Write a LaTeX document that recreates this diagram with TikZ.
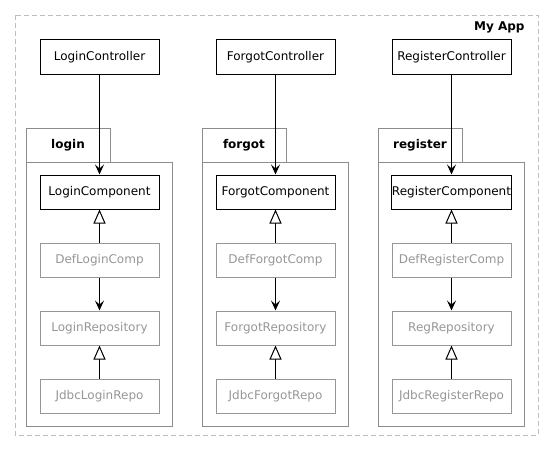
\documentclass[tikz,border=0pt]{standalone}
\usepackage{fontspec}
\setmainfont{DejaVu Sans}
\usetikzlibrary{arrows.meta}
\definecolor{softgray}{RGB}{150,150,150}
\definecolor{pkggray}{RGB}{140,140,140}
\definecolor{framegray}{RGB}{190,190,190}

\begin{document}
\begin{tikzpicture}[x=1pt,y=-1pt,font=\fontsize{12}{14}\selectfont]
      \useasboundingbox (0,0) rectangle (559,452);
      \draw[framegray, dash pattern=on 5pt off 3pt] (15,15) rectangle (538,435);
      \node[anchor=east, font=\fontsize{12}{14}\selectfont\bfseries] (app) at (528,27) {My App};
      \begin{scope}[draw=pkggray, line width=1pt]
        \draw (26,128) rectangle (110,162);
        \draw (26,162) rectangle (172,426);
        \draw (202,128) rectangle (286,162);
        \draw (202,162) rectangle (348,426);
        \draw (378,128) rectangle (462,162);
        \draw (378,162) rectangle (524,426);
      \end{scope}
      \begin{scope}[every node/.style={font=\fontsize{12}{14}\selectfont\bfseries}]
        \node (loginpkg) at (68,145) {login};
        \node (forgotpkg) at (244,145) {forgot};
        \node (registerpkg) at (420,145) {register};
      \end{scope}
      \begin{scope}[every node/.style={rectangle,draw,fill=white,line width=1pt,inner sep=0pt,
          minimum width=119pt,minimum height=34pt}]
        \node (lctrl) at (99.5,57) {LoginController};
        \node (fctrl) at (275.5,57) {ForgotController};
        \node (rctrl) at (451.5,57) {RegisterController};
        \node (lcomp) at (99.5,192) {LoginComponent};
        \node (fcomp) at (275.5,192) {ForgotComponent};
        \node (rcomp) at (451.5,192) {RegisterComponent};
      \end{scope}
      \begin{scope}[every node/.style={rectangle,draw=softgray,text=softgray,line width=1pt,inner sep=0pt,
          minimum width=119pt,minimum height=34pt}]
        \node (ldef) at (99.5,260) {DefLoginComp};
        \node (fdef) at (275.5,260) {DefForgotComp};
        \node (rdef) at (451.5,260) {DefRegisterComp};
        \node (lrepo) at (99.5,328) {LoginRepository};
        \node (frepo) at (275.5,328) {ForgotRepository};
        \node (rrepo) at (451.5,328) {RegRepository};
        \node (ljdbc) at (99.5,396) {JdbcLoginRepo};
        \node (fjdbc) at (275.5,396) {JdbcForgotRepo};
        \node (rjdbc) at (451.5,396) {JdbcRegisterRepo};
      \end{scope}
      \begin{scope}[>={Stealth[length=10pt,width=9pt,inset=4pt]},
          every edge/.style={draw=black,line width=1.2pt}]
        \path (lctrl) edge[->] (lcomp);
        \path (fctrl) edge[->] (fcomp);
        \path (rctrl) edge[->] (rcomp);
        \path (ldef) edge[->] (lrepo);
        \path (fdef) edge[->] (frepo);
        \path (rdef) edge[->] (rrepo);
      \end{scope}
      \begin{scope}[>={Triangle[length=14pt,width=12pt,fill=white,line width=1pt]},
          every edge/.style={draw=black,line width=1.2pt}]
        \path (ldef) edge[->] (lcomp);
        \path (fdef) edge[->] (fcomp);
        \path (rdef) edge[->] (rcomp);
        \path (ljdbc) edge[->] (lrepo);
        \path (fjdbc) edge[->] (frepo);
        \path (rjdbc) edge[->] (rrepo);
      \end{scope}
    \end{tikzpicture}
\end{document}
